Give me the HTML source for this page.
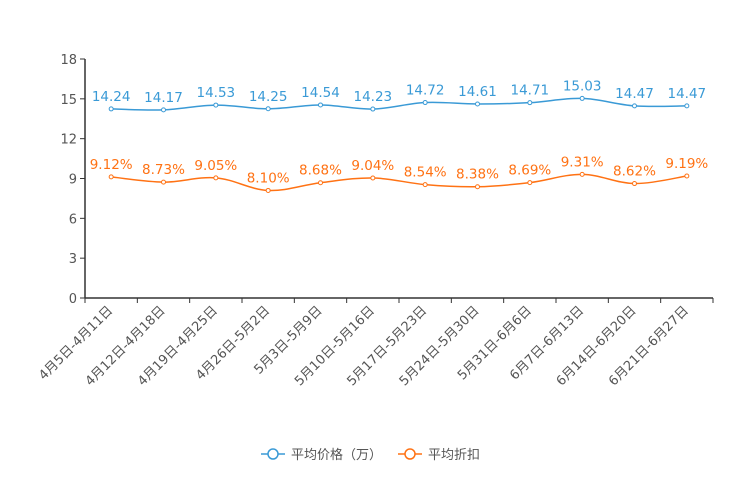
<!DOCTYPE html>
<html><head><meta charset="utf-8"><style>
body{margin:0;background:#fff}
svg{display:block;font-family:"DejaVu Sans","Noto Sans CJK SC",sans-serif}
</style></head><body>
<svg id="c" width="744" height="496"></svg>
<script>
const categories=["4月5日-4月11日","4月12日-4月18日","4月19日-4月25日","4月26日-5月2日","5月3日-5月9日","5月10日-5月16日","5月17日-5月23日","5月24日-5月30日","5月31日-6月6日","6月7日-6月13日","6月14日-6月20日","6月21日-6月27日"];
const priceValues=[14.24,14.17,14.53,14.25,14.54,14.23,14.72,14.61,14.71,15.03,14.47,14.47];
const discountValues=[9.12,8.73,9.05,8.10,8.68,9.04,8.54,8.38,8.69,9.31,8.62,9.19];
const yTicks=[0,3,6,9,12,15,18];
const NS="http://www.w3.org/2000/svg";
const svg=document.getElementById('c');
const X0=85,X1=713,Y0=298,Y1=59,YMAX=18;
const bw=(X1-X0)/categories.length;
const xs=i=>X0+bw*(i+0.5);
const ys=v=>Y0-(v/YMAX)*(Y0-Y1);
function el(t,a,p){const e=document.createElementNS(NS,t);for(const k in a)e.setAttribute(k,a[k]);(p||svg).appendChild(e);return e;}
let g=el('g',{});


el('line',{x1:X0,y1:Y1,x2:X0,y2:Y0,stroke:'#333','stroke-width':1.5},g);
yTicks.forEach(v=>{
 el('line',{x1:X0-5,y1:ys(v),x2:X0,y2:ys(v),stroke:'#333'},g);
 const t=el('text',{x:X0-8,y:ys(v)+5,'text-anchor':'end','font-size':13,fill:'#555'},g);
 t.textContent=v;
 
 
});
let gx=el('g',{});


el('line',{x1:X0,y1:Y0,x2:X1,y2:Y0,stroke:'#333','stroke-width':1.5},gx);
for(let i=0;i<=categories.length;i++){el('line',{x1:X0+bw*i,y1:Y0,x2:X0+bw*i,y2:Y0+5,stroke:'#333'},gx);}
categories.forEach((c,i)=>{
 const x=xs(i)-4,y=Y0+7;
 const t=el('text',{x:x,y:y,'text-anchor':'end','font-size':13,fill:'#555',transform:`rotate(-45 ${x} ${y})`,'dominant-baseline':'hanging'},gx);
 t.textContent=c;
 
 
});
function smooth(pts){
 let d=`M${pts[0][0]},${pts[0][1]}`;
 const k=0.35;
 for(let i=0;i<pts.length-1;i++){
  const p0=pts[i-1]||pts[i],p1=pts[i],p2=pts[i+1],p3=pts[i+2]||p2;
  const c1=[p1[0]+(p2[0]-p0[0])*k/2,p1[1]+(p2[1]-p0[1])*k/2];
  const c2=[p2[0]-(p3[0]-p1[0])*k/2,p2[1]-(p3[1]-p1[1])*k/2];
  d+=` C${c1[0]},${c1[1]} ${c2[0]},${c2[1]} ${p2[0]},${p2[1]}`;
 }
 return d;
}
function series(vals,color,name,fmt){
 const gs=el('g',{});
 
 
 const pts=vals.map((v,i)=>[xs(i),ys(v)]);
 el('path',{d:smooth(pts),fill:'none',stroke:color,'stroke-width':1.5},gs);
 pts.forEach((p,i)=>{
  const c=el('circle',{cx:p[0],cy:p[1],r:2,fill:'#fff',stroke:color,'stroke-width':1},gs);
  
  
  const t=el('text',{x:p[0],y:p[1]-8,'text-anchor':'middle','font-size':13.5,fill:color},gs);
  t.textContent=fmt(vals[i]);
  
  
 });
}
series(priceValues,'#3a9ad6','price-series',v=>v.toFixed(2));
series(discountValues,'#ff7214','discount-series',v=>v.toFixed(2)+'%');
function legend(x,color,label){
 const gl=el('g',{});
 
 
 el('line',{x1:x,y1:454,x2:x+24,y2:454,stroke:color,'stroke-width':1.5},gl);
 el('circle',{cx:x+12,cy:454,r:5,fill:'#fff',stroke:color,'stroke-width':1.5},gl);
 const t=el('text',{x:x+30,y:459,'font-size':13,fill:'#555'},gl);
 t.textContent=label;
}
legend(261,'#3a9ad6','平均价格（万）');
legend(398,'#ff7214','平均折扣');
</script>
</body></html>
